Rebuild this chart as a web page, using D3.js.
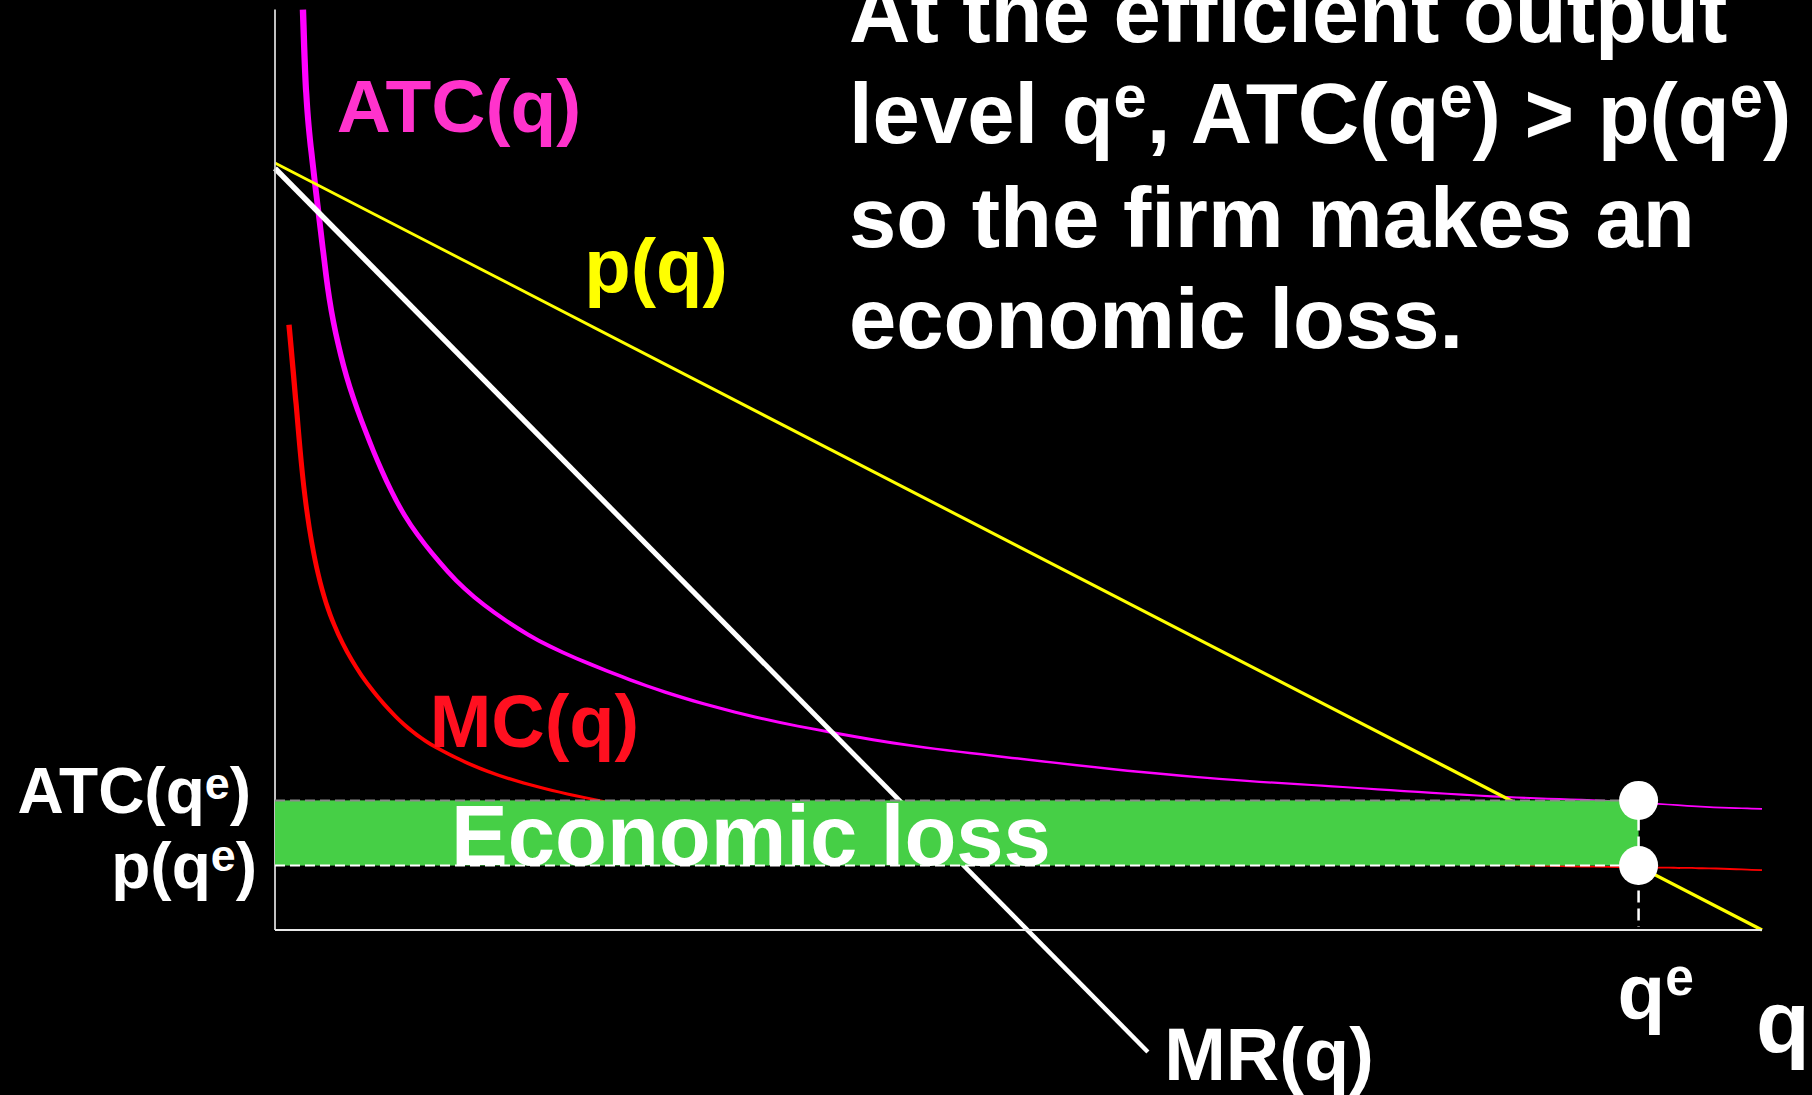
<!DOCTYPE html>
<html>
<head>
<meta charset="utf-8">
<script src="https://cdn.jsdelivr.net/npm/d3@7"></script>
<style>
  html, body { margin: 0; padding: 0; background: #000; }
  svg { display: block; }
  text { font-family: "Liberation Sans", Arial, Helvetica, sans-serif; font-weight: bold; }
</style>
</head>
<body>
<svg id="chart" width="1812" height="1095"></svg>
<script>
// ---------------- data (q = output, p = price/cost) ----------------
const demandPts = [[0, 100], [100, 0]];                 // p(q)
const mrPts     = [[0, 99.3], [58.7, -15.9]];           // MR(q)
const atcPts = [
  [1.88, 120], [2.08, 108.2], [2.42, 101.7], [2.96, 93.0], [3.23, 88.7],
  [3.63, 82.1], [4.21, 76.5], [4.97, 70.8], [6.12, 64.8], [7.12, 60.0],
  [8.67, 53.8], [10.48, 49.2], [12.7, 44.3], [15.39, 40.4], [18.35, 36.9],
  [22.11, 33.9], [26.61, 30.6], [32.39, 27.6], [37.5, 25.7], [42.88, 23.9],
  [48.92, 22.6], [56.38, 20.9], [63.91, 19.6], [68.95, 19.0], [74.53, 18.3],
  [83.06, 17.2], [90.26, 16.9], [95.83, 16.0], [100, 15.8]
];
const mcPts = [
  [0.94, 78.9], [1.41, 69.1], [1.95, 56.1], [2.89, 45.6], [3.97, 39.5],
  [5.11, 35.2], [6.45, 31.3], [8.67, 26.5], [10.95, 23.5], [14.31, 20.5],
  [17.67, 18.6], [21.44, 16.9], [30, 14.0], [40, 12.0], [50, 10.7],
  [60, 9.8], [70, 9.1], [80, 8.6], [92.7, 8.1], [95.8, 8.1], [100, 7.8]
];
const qE = 91.7;      // efficient output
const atcE = 16.9;    // ATC(q^e)
const pE = 8.4;       // p(q^e)
const qMax = 100, pMax = 120;

const titleLines = [
  [{t: "At the efficient output"}],
  [{t: "level q"}, {t: "e", sup: true}, {t: ", ATC(q"}, {t: "e", sup: true}, {t: ") > p(q"}, {t: "e", sup: true}, {t: ")"}],
  [{t: "so the firm makes an"}],
  [{t: "economic loss."}]
];
const curveLabels = [
  {text: "ATC(q)", q: 4.16, p: 104.1, color: "#ff33cc", size: 75},
  {text: "p(q)",   q: 20.8, p: 83.2,  color: "#ffff00", size: 76},
  {text: "MC(q)",  q: 10.4, p: 23.9,  color: "#ff1020", size: 74},
  {text: "MR(q)",  q: 59.8, p: -19.6, color: "#ffffff", size: 74}
];
const lossLabel = "Economic loss";

// ---------------- scales ----------------
const svg = d3.select("#chart");
svg.append("rect").attr("width", 1812).attr("height", 1095).attr("fill", "#000");

const x = d3.scaleLinear().domain([0, qMax]).range([275, 1762]);
const y = d3.scaleLinear().domain([0, 100]).range([930, 163]);

// ---------------- tapered ribbon helper ----------------
function ribbon(data, wScale) {
  const pts = data.map(d => [x(d[0]), y(d[1])]);
  const n = pts.length;
  const cum = [0];
  for (let i = 1; i < n; i++) {
    cum.push(cum[i - 1] + Math.hypot(pts[i][0] - pts[i - 1][0], pts[i][1] - pts[i - 1][1]));
  }
  const total = cum[n - 1];
  const L = [], R = [];
  for (let i = 0; i < n; i++) {
    const a = pts[Math.max(0, i - 1)], b = pts[Math.min(n - 1, i + 1)];
    let tx = b[0] - a[0], ty = b[1] - a[1];
    const len = Math.hypot(tx, ty) || 1;
    tx /= len; ty /= len;
    const nx = -ty, ny = tx;
    const w = wScale(cum[i] / total) / 2;
    L.push([pts[i][0] + nx * w, pts[i][1] + ny * w]);
    R.push([pts[i][0] - nx * w, pts[i][1] - ny * w]);
  }
  const g = d3.line().curve(d3.curveBasis);
  return g(L) + g(R.reverse()).replace(/^M/, "L") + "Z";
}

const curves = svg.append("g");
// MC
curves.append("path")
  .attr("d", ribbon(mcPts, d3.scaleLinear().domain([0, 0.14, 0.24, 0.35, 1]).range([5.4, 4.8, 3.9, 2.8, 1.8])))
  .attr("fill", "#ff0000");
// ATC
curves.append("path")
  .attr("d", ribbon(atcPts, d3.scaleLinear().domain([0, 0.15, 0.3, 0.43, 0.55, 1]).range([6.4, 5.6, 4.6, 3.5, 2.6, 1.8])))
  .attr("fill", "#ff00ff");
// demand
curves.append("path")
  .attr("d", ribbon(demandPts, d3.scaleLinear().domain([0, 1]).range([2.8, 3.4])))
  .attr("fill", "#ffff00");
// MR
curves.append("path")
  .attr("d", ribbon(mrPts, d3.scaleLinear().domain([0, 1]).range([5.6, 4.4])))
  .attr("fill", "#ffffff");

// ---------------- axes ----------------
svg.append("line")
  .attr("x1", x(0)).attr("x2", x(0)).attr("y1", y(0)).attr("y2", y(pMax))
  .attr("stroke", "#d8d8d8").attr("stroke-width", 1.8);
svg.append("line")
  .attr("x1", x(0)).attr("x2", x(qMax)).attr("y1", y(0)).attr("y2", y(0))
  .attr("stroke", "#e8e8e8").attr("stroke-width", 2.2);

// ---------------- economic loss box ----------------
svg.append("rect")
  .attr("x", x(0)).attr("y", y(atcE))
  .attr("width", x(qE) - x(0)).attr("height", y(pE) - y(atcE))
  .attr("fill", "#46cf46");

svg.append("line")
  .attr("x1", x(0)).attr("x2", x(qE)).attr("y1", y(atcE)).attr("y2", y(atcE))
  .attr("stroke", "#8a8a8a").attr("stroke-width", 2).attr("stroke-dasharray", "10,5");
svg.append("line")
  .attr("x1", x(0)).attr("x2", x(qE)).attr("y1", y(pE)).attr("y2", y(pE))
  .attr("stroke", "#ffffff").attr("stroke-width", 2).attr("stroke-dasharray", "10,5");
svg.append("line")
  .attr("x1", x(qE)).attr("x2", x(qE)).attr("y1", y(atcE)).attr("y2", y(0) - 3)
  .attr("stroke", "#ffffff").attr("stroke-width", 2.5).attr("stroke-dasharray", "12,6");

svg.append("text")
  .attr("x", 451).attr("y", y(pE) - 1)
  .attr("font-size", 85).attr("fill", "#ffffff")
  .text(lossLabel);

svg.selectAll("circle.pt")
  .data([atcE, pE])
  .join("circle")
  .attr("class", "pt")
  .attr("cx", x(qE)).attr("cy", d => y(d)).attr("r", 19.5)
  .attr("fill", "#ffffff");

// ---------------- rich text helper ----------------
function rich(parent, px, py, parts, size, fill, anchor, supScale, raise) {
  const t = parent.append("text")
    .attr("x", px).attr("y", py)
    .attr("font-size", size).attr("fill", fill)
    .attr("text-anchor", anchor || "start");
  let shifted = false;
  parts.forEach(p => {
    const s = t.append("tspan").text(p.t);
    if (p.sup) {
      s.attr("font-size", size * supScale).attr("dy", -raise);
      shifted = true;
    } else if (shifted) {
      s.attr("dy", raise);
      shifted = false;
    }
  });
  return t;
}

// curve labels
curveLabels.forEach(l => {
  svg.append("text")
    .attr("x", x(l.q)).attr("y", y(l.p))
    .attr("font-size", l.size).attr("fill", l.color)
    .text(l.text);
});

// title
const titleBaselines = [42, 143, 247, 348];
titleLines.forEach((parts, i) => {
  rich(svg, 849, titleBaselines[i], parts, 85, "#ffffff", "start", 0.7, 26);
});

// y-axis value labels
rich(svg, 251, y(atcE) + 13, [{t: "ATC(q"}, {t: "e", sup: true}, {t: ")"}], 64, "#ffffff", "end", 0.7, 14);
rich(svg, 257, y(pE) + 22, [{t: "p(q"}, {t: "e", sup: true}, {t: ")"}], 64, "#ffffff", "end", 0.7, 17);

// x-axis labels
rich(svg, x(qE) - 21, 1019, [{t: "q"}, {t: "e", sup: true}], 78, "#ffffff", "start", 0.66, 24);
svg.append("text")
  .attr("x", 1756).attr("y", 1052)
  .attr("font-size", 88).attr("fill", "#ffffff")
  .text("q");
</script>
</body>
</html>
